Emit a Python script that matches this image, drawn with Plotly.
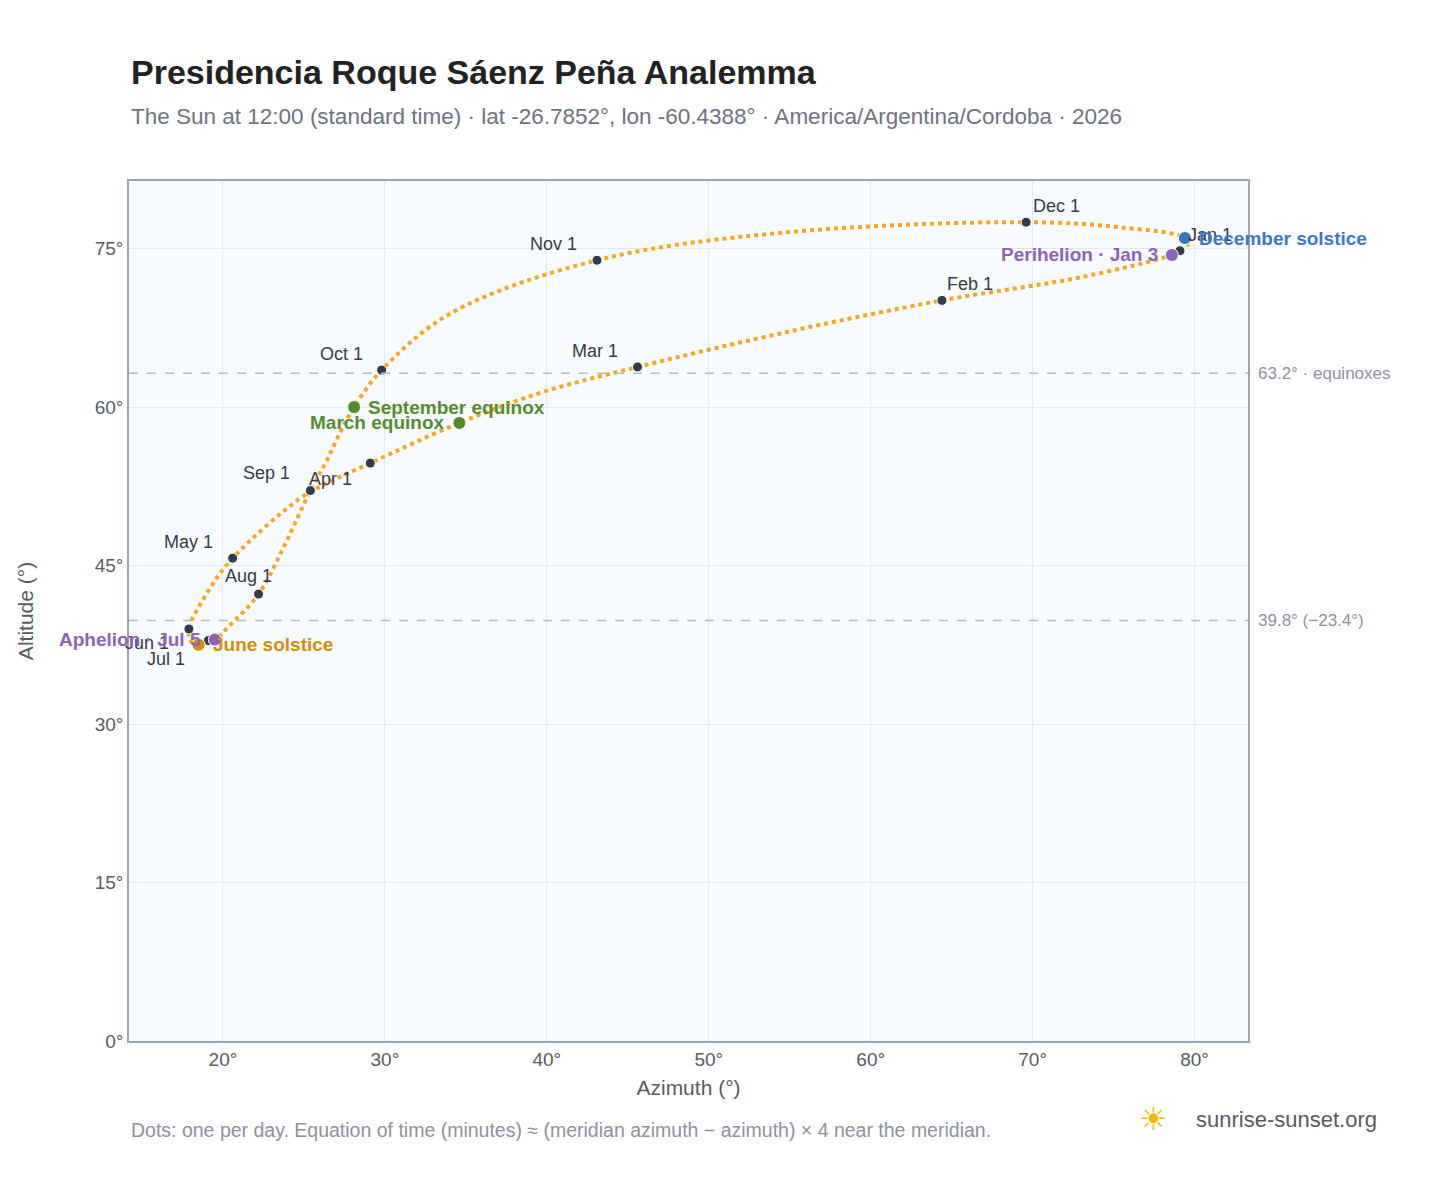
import plotly.graph_objects as go

# Path through the year (~semi-monthly)
path_labels = ["Jan 1","Jan 3","Jan 15","Feb 1","Feb 15","Mar 1","Mar 15","Mar 20","Apr 1","Apr 15","Apr 22","May 1","May 15","Jun 1","Jun 15","Jun 21","Jul 1","Jul 5","Jul 15","Aug 1","Aug 15","Sep 1","Sep 10","Sep 15","Sep 23","Oct 1","Oct 15","Nov 1","Nov 15","Dec 1","Dec 15","Dec 21","Dec 31"]
path_az  = [79.1,78.6,73.0,64.4,55.1,45.6,39.7,34.6,29.1,26.7,24.8,20.6,19.1,17.9,18.0,18.5,19.1,19.5,20.4,22.2,23.8,25.4,26.4,27.3,28.1,29.8,34.1,43.1,54.5,69.6,75.5,79.4,79.6]
path_alt = [74.8,74.4,72.3,70.1,67.2,63.8,61.4,58.5,54.7,53.0,51.4,45.7,42.6,39.0,37.9,37.5,37.9,38.0,39.3,42.3,46.9,52.1,54.9,57.8,60.0,63.5,68.9,73.9,76.5,77.5,77.0,76.0,75.2]

month_labels = ["Jan 1","Feb 1","Mar 1","Apr 1","May 1","Jun 1","Jul 1","Aug 1","Sep 1","Oct 1","Nov 1","Dec 1"]
month_az  = [79.1,64.4,45.6,29.1,20.6,17.9,19.1,22.2,25.4,29.8,43.1,69.6]
month_alt = [74.8,70.1,63.8,54.7,45.7,39.0,37.9,42.3,52.1,63.5,73.9,77.5]
month_dx  = [30,28,-42,-40,-44,-42,-42,-10,-44,-40,-44,30]
month_dy  = [16,16,16,-16,16,-14,-18,18,18,16,16,16]

events = ["December solstice","Perihelion · Jan 3","March equinox","September equinox","June solstice","Aphelion · Jul 5"]
ev_az  = [79.4,78.6,34.6,28.1,18.5,19.5]
ev_alt = [76.0,74.4,58.5,60.0,37.5,38.0]
ev_col = ["#3a78c2","#8e62b8","#558b2f","#558b2f","#d38d0a","#8e62b8"]
ev_pos = ["right","left","left","right","right","left"]

x_ticks = [20,30,40,50,60,70,80]
y_ticks = [0,15,30,45,60,75]

fig = go.Figure()
fig.add_trace(go.Scatter(x=path_az, y=path_alt, mode="lines",
    line=dict(color="#f5a623", width=4, dash="dot", shape="spline", smoothing=1.0),
    hoverinfo="skip", showlegend=False))
fig.add_trace(go.Scatter(x=month_az, y=month_alt, mode="markers",
    marker=dict(color="#333b48", size=10, line=dict(color="white", width=1)), showlegend=False))
fig.add_trace(go.Scatter(x=ev_az, y=ev_alt, mode="markers",
    marker=dict(color=ev_col, size=13, line=dict(color="white", width=1)), showlegend=False))

for l, x, y, dx, dy in zip(month_labels, month_az, month_alt, month_dx, month_dy):
    fig.add_annotation(x=x, y=y, text=l, showarrow=False, xshift=dx, yshift=dy,
                       font=dict(size=18, color="#333b48"))
for l, x, y, c, p in zip(events, ev_az, ev_alt, ev_col, ev_pos):
    fig.add_annotation(x=x, y=y, text="<b>"+l+"</b>", showarrow=False,
                       xanchor="left" if p == "right" else "right",
                       xshift=12 if p == "right" else -12, font=dict(size=19, color=c))

for yv, txt in [(63.2, "63.2° · equinoxes"), (39.8, "39.8° (−23.4°)")]:
    fig.add_shape(type="line", xref="paper", x0=0, x1=1, y0=yv, y1=yv,
                  line=dict(color="#b4bcc6", width=1.5, dash="dash"))
    fig.add_annotation(xref="paper", x=1, y=yv, text=txt, showarrow=False, xanchor="left",
                       xshift=8, font=dict(size=17, color="#8a939e"))

fig.add_annotation(xref="paper", yref="paper", x=0, y=1, xanchor="left", yanchor="bottom",
    yshift=88, showarrow=False, text="<b>Presidencia Roque Sáenz Peña Analemma</b>",
    font=dict(size=34, color="#222"))
fig.add_annotation(xref="paper", yref="paper", x=0, y=1, xanchor="left", yanchor="bottom",
    yshift=50, showarrow=False,
    text="The Sun at 12:00 (standard time) · lat -26.7852°, lon -60.4388° · America/Argentina/Cordoba · 2026",
    font=dict(size=22.5, color="#6b7380"))
fig.add_annotation(xref="paper", yref="paper", x=0, y=0, xanchor="left", yanchor="top",
    yshift=-76, showarrow=False,
    text="Dots: one per day. Equation of time (minutes) ≈ (meridian azimuth − azimuth) × 4 near the meridian.",
    font=dict(size=19.5, color="#8a939e"))
fig.add_annotation(xref="paper", yref="paper", x=1.117, y=0, xanchor="right", yanchor="top",
    yshift=-64, showarrow=False, text="sunrise-sunset.org", font=dict(size=22, color="#555c66"))
fig.add_annotation(xref="paper", yref="paper", x=0.93, y=0, xanchor="right", yanchor="top",
    yshift=-58, showarrow=False, text="☀", font=dict(size=32, color="#f5b800"))

fig.update_layout(width=1448, height=1188, margin=dict(l=121, r=208, t=173, b=155),
    paper_bgcolor="white", plot_bgcolor="#f8fbfe", font=dict(family="Liberation Sans, Arial", color="#555c66"))
fig.update_xaxes(range=[14.2, 83.3], tickvals=x_ticks, ticktext=[f"{v}°" for v in x_ticks],
    title=dict(text="Azimuth (°)", font=dict(size=21), standoff=12), tickfont=dict(size=19), gridcolor="#e4e9ef",
    showline=True, linecolor="#9aa5b1", linewidth=1.5, mirror=True, zeroline=False, ticks="")
fig.update_yaxes(range=[0, 81.4], tickvals=y_ticks, ticktext=[f"{v}°" for v in y_ticks],
    title=dict(text="Altitude (°)", font=dict(size=21), standoff=55), tickfont=dict(size=19), gridcolor="#e4e9ef",
    showline=True, linecolor="#9aa5b1", linewidth=1.5, mirror=True, zeroline=False, ticks="")
fig.write_html("out.html")
